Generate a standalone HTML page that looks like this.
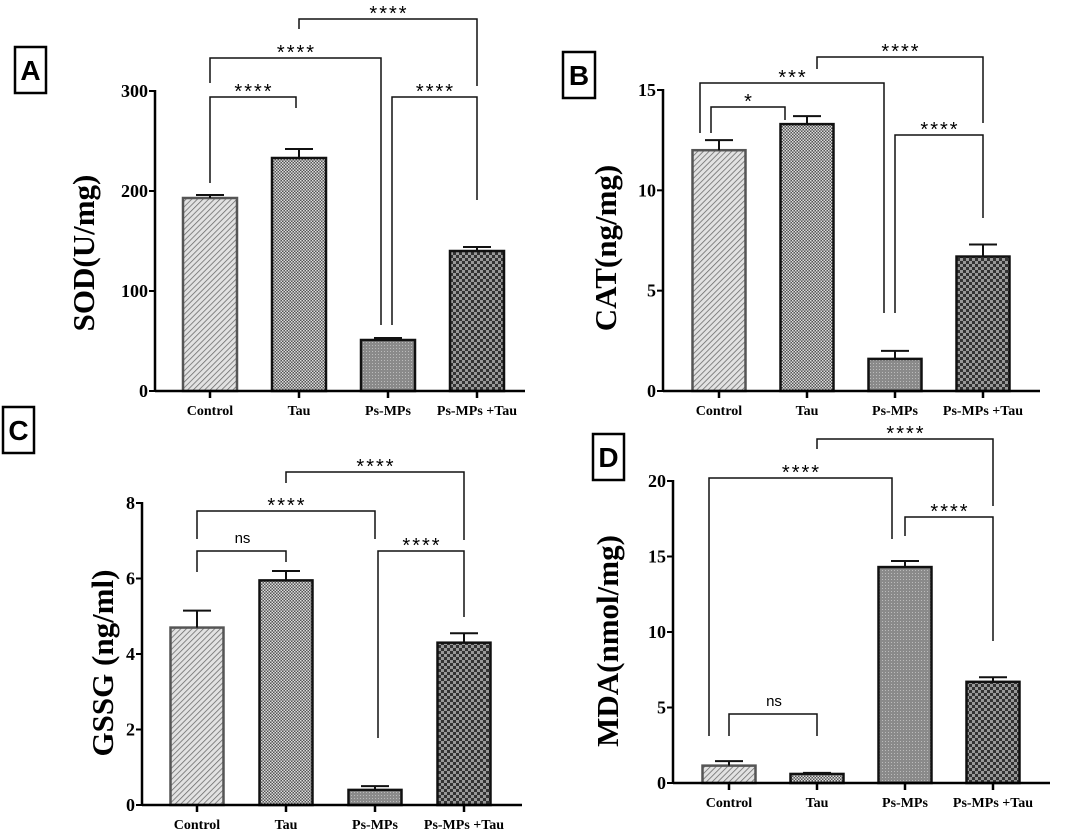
<!DOCTYPE html>
<html><head><meta charset="utf-8">
<style>
html,body{margin:0;padding:0;background:#fff;}
svg{display:block;}
.tick{font-family:"Liberation Serif",serif;font-weight:bold;font-size:18px;}
.cat{font-family:"Liberation Serif",serif;font-weight:bold;font-size:14px;}
.ytitle{font-family:"Liberation Serif",serif;font-weight:bold;font-size:31px;}
.star{font-family:"Liberation Sans",sans-serif;font-size:20px;letter-spacing:2px;}
.ns{font-family:"Liberation Sans",sans-serif;font-size:15px;}
.plabel{font-family:"Liberation Sans",sans-serif;font-weight:bold;font-size:28px;}
</style></head>
<body>
<svg id="fig" width="1065" height="831" viewBox="0 0 1065 831" xmlns="http://www.w3.org/2000/svg">
<defs>
<pattern id="pHatch" width="4" height="4" patternUnits="userSpaceOnUse" patternTransform="rotate(45)">
<rect width="4" height="4" fill="#e2e2e2"/><line x1="0" y1="0" x2="0" y2="4" stroke="#666" stroke-width="1.5"/></pattern>
<pattern id="pFine" width="3" height="3" patternUnits="userSpaceOnUse">
<rect width="3" height="3" fill="#555"/><rect width="1.5" height="1.5" fill="#ddd"/><rect x="1.5" y="1.5" width="1.5" height="1.5" fill="#ddd"/></pattern>
<pattern id="pDot" width="3" height="3" patternUnits="userSpaceOnUse">
<rect width="3" height="3" fill="#8a8a8a"/><rect width="1" height="1" fill="#bbb"/></pattern>
<pattern id="pCheck" width="6" height="6" patternUnits="userSpaceOnUse">
<rect width="6" height="6" fill="#333"/><rect width="3" height="3" fill="#999"/><rect x="3" y="3" width="3" height="3" fill="#999"/></pattern>
</defs>
</svg>
<script>
const categories = ["Control","Tau","Ps-MPs","Ps-MPs +Tau"];
const sodValues = [193,233,51,140];
const sodErrors = [3,9,2,4];
const sodTicks = [0,100,200,300];
const catValues = [12.0,13.3,1.6,6.7];
const catErrors = [0.5,0.4,0.4,0.6];
const catTicks = [0,5,10,15];
const gssgValues = [4.7,5.95,0.4,4.3];
const gssgErrors = [0.45,0.25,0.1,0.25];
const gssgTicks = [0,2,4,6,8];
const mdaValues = [1.15,0.6,14.3,6.7];
const mdaErrors = [0.3,0.07,0.4,0.3];
const mdaTicks = [0,5,10,15,20];

const NS="http://www.w3.org/2000/svg";
const svg=document.getElementById('fig');
const fills=["url(#pHatch)","url(#pFine)","url(#pDot)","url(#pCheck)"];
const strokes=["#555","#111","#111","#111"];
function mk(tag,attrs,parent){const e=document.createElementNS(NS,tag);for(const k in attrs)e.setAttribute(k,attrs[k]);(parent||svg).appendChild(e);return e;}

const panels=[
 {id:"a",letter:"A",title:"SOD(U/mg)",vals:sodValues,errs:sodErrors,ticks:sodTicks,ax:155,y0:391,yTop:91,max:300,xEnd:525,c0:210,step:89,bw:54,catY:415,box:[15,47,31,46],titleX:83,titleY:253,
  br:[{l:299,r:477,y:19,ld:29,rd:86,t:"****"},{l:210,r:381,y:58,ld:83,rd:325,t:"****"},{l:210,r:296,y:97,ld:183,rd:108,t:"****"},{l:392,r:477,y:97,ld:325,rd:200,t:"****"}]},
 {id:"b",letter:"B",title:"CAT(ng/mg)",vals:catValues,errs:catErrors,ticks:catTicks,ax:663,y0:391,yTop:90,max:15,xEnd:1040,c0:719,step:88,bw:53,catY:415,box:[563,52,32,46],titleX:605,titleY:248,
  br:[{l:817,r:983,y:57,ld:69,rd:123,t:"****"},{l:700,r:884,y:83,ld:133,rd:313,t:"***"},{l:711,r:785,y:107,ld:133,rd:120,t:"*"},{l:895,r:983,y:135,ld:313,rd:218,t:"****"}]},
 {id:"c",letter:"C",title:"GSSG (ng/ml)",vals:gssgValues,errs:gssgErrors,ticks:gssgTicks,ax:142,y0:805,yTop:503,max:8,xEnd:522,c0:197,step:89,bw:53,catY:829,box:[3,407,31,46],titleX:102,titleY:663,
  br:[{l:286,r:464,y:472,ld:483,rd:540,t:"****"},{l:197,r:375,y:511,ld:539,rd:539,t:"****"},{l:197,r:286,y:551,ld:572,rd:562,t:"ns"},{l:378,r:464,y:551,ld:738,rd:617,t:"****"}]},
 {id:"d",letter:"D",title:"MDA(nmol/mg)",vals:mdaValues,errs:mdaErrors,ticks:mdaTicks,ax:673,y0:783,yTop:481,max:20,xEnd:1050,c0:729,step:88,bw:53,catY:807,box:[593,434,31,46],titleX:607,titleY:641,
  br:[{l:817,r:993,y:439,ld:449,rd:506,t:"****"},{l:709,r:892,y:478,ld:736,rd:539,t:"****"},{l:905,r:993,y:517,ld:536,rd:641,t:"****"},{l:729,r:817,y:714,ld:736,rd:736,t:"ns"}]}
];

panels.forEach(p=>{
 const g=mk('g',{});
 
 
 const yS=v=>p.y0-(v/p.max)*(p.y0-p.yTop);
 const xS=i=>p.c0+i*p.step;
 p.vals.forEach((v,i)=>{
  const x=xS(i), top=yS(v);
  const r=mk('rect',{x:x-p.bw/2,y:top,width:p.bw,height:p.y0-top,fill:fills[i],stroke:strokes[i],'stroke-width':2.5},g);
  
  
  const ey=yS(v+p.errs[i]);
  const e=mk('path',{d:`M${x},${top}V${ey}M${x-14},${ey}H${x+14}`,stroke:"#111",'stroke-width':2,fill:'none'},g);
  
  
 });
 const ya=mk('line',{x1:p.ax,y1:p.yTop-1,x2:p.ax,y2:p.y0,stroke:'#000','stroke-width':2.5},g);
 
 
 const xa=mk('line',{x1:p.ax,y1:p.y0,x2:p.xEnd,y2:p.y0,stroke:'#000','stroke-width':2.5},g);
 
 
 p.ticks.forEach(t=>{
  const y=yS(t);
  mk('line',{x1:p.ax-6,y1:y,x2:p.ax,y2:y,stroke:'#000','stroke-width':2},g);
  const tx=mk('text',{x:p.ax-7,y:y+6,'text-anchor':'end',class:'tick'},g);
  tx.textContent=t;
  
  
 });
 categories.forEach((c,i)=>{
  const x=xS(i);
  mk('line',{x1:x,y1:p.y0,x2:x,y2:p.y0+7,stroke:'#000','stroke-width':2.5},g);
  const tx=mk('text',{x:x,y:p.catY,'text-anchor':'middle',class:'cat'},g);
  tx.textContent=c;
  
  
 });
 const tt=mk('text',{x:p.titleX,y:p.titleY,'text-anchor':'middle',class:'ytitle',transform:`rotate(-90 ${p.titleX} ${p.titleY})`,dy:11},g);
 tt.textContent=p.title;
 
 
 const bx=mk('rect',{x:p.box[0],y:p.box[1],width:p.box[2],height:p.box[3],fill:'#fff',stroke:'#000','stroke-width':2.5},g);
 
 
 const lt=mk('text',{x:p.box[0]+p.box[2]/2,y:p.box[1]+p.box[3]/2+10,'text-anchor':'middle',class:'plabel'},g);
 lt.textContent=p.letter;
 
 
 p.br.forEach(b=>{
  const pa=mk('path',{d:`M${b.l},${b.ld}V${b.y}H${b.r}V${b.rd}`,stroke:'#111','stroke-width':1.5,fill:'none'},g);
  
  
  const st=mk('text',{x:(b.l+b.r)/2+1,y:b.t==='ns'?b.y-8:b.y+1,'text-anchor':'middle',class:b.t==='ns'?'ns':'star'},g);
  st.textContent=b.t;
  
  
 });
});
</script>
</body></html>
